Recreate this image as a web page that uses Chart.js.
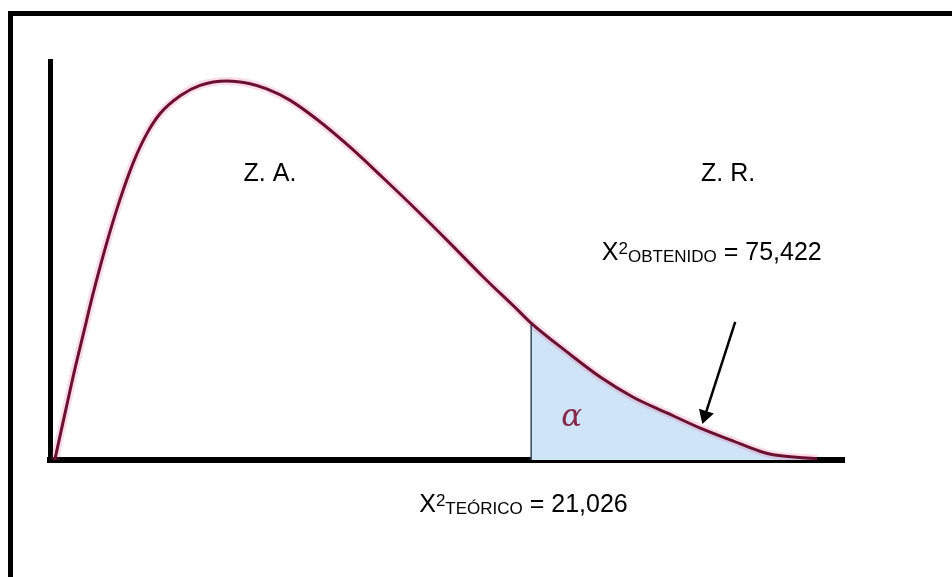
<!DOCTYPE html>
<html>
<head>
<meta charset="utf-8">
<title>Chi cuadrado - zona de rechazo</title>
<script src="https://cdn.jsdelivr.net/npm/chart.js@4.4.0/dist/chart.umd.min.js"></script>
<style>
  html, body { margin: 0; padding: 0; background: #fff; overflow: hidden; }
  #wrap { position: relative; width: 952px; height: 577px; }
  /* black frame, only top and left edges are visible in the picture */
  #frame { position: absolute; left: 8px; top: 11px; width: 2000px; height: 2000px;
           border-top: 5px solid #000; border-left: 5px solid #000; }
  #chart { position: absolute; left: 0; top: 0; }
</style>
</head>
<body>
<div id="wrap">
  <div id="frame"></div>
  <canvas id="chart" width="952" height="577"></canvas>
</div>
<script>
// density curve (x and y both 0..100 scale units)
const curveX = [0.6, 2.9, 4.2, 5.4, 7.2, 8.8, 10.5, 12.2, 13.9, 16.4, 18.9, 22.3, 25.2, 27.3, 30.2, 33.6,
  37.8, 41.9, 46.2, 50.4, 54.5, 58.8, 60.6, 65.1, 69.3, 73.4, 77.7, 81.9, 86.0, 89.4, 91.1, 96.6];
const curveY = [0.0, 20.8, 31.6, 41.5, 54.8, 65.2, 74.6, 81.8, 86.9, 91.3, 93.9, 95.0, 94.3, 93.0, 90.2, 85.4,
  78.4, 70.8, 62.6, 54.3, 46.0, 37.8, 34.3, 27.1, 20.8, 15.8, 11.8, 8.0, 4.8, 2.2, 1.3, 0.3];

// start of the rejection zone (X² teórico)
const alphaStart = 60.6;

// arrow pointing at X² obtenido: start, end
const arrowX = [86.3, 82.5];
const arrowY = [34.6, 11.2];

const zoneLabels = ['Z. A.', 'Z. R.'];
const chiTeorico = '21,026';
const chiObtenido = '75,422';

const curvePts = curveX.map((x, i) => ({ x: x, y: curveY[i] }));
const shadePts = curvePts.filter(p => p.x >= alphaStart);
const startY = curveY[curveX.indexOf(alphaStart)];

const FONT = '"Liberation Sans", Arial, sans-serif';

// draws X² with a superscript 2 and a small subscript, then " = value"
function drawChi(ctx, x, y, sub, value) {
  ctx.textAlign = 'left';
  ctx.textBaseline = 'alphabetic';
  ctx.font = '25px ' + FONT;
  ctx.fillText('X', x, y);
  x += ctx.measureText('X').width;
  ctx.font = '17px ' + FONT;
  ctx.fillText('2', x, y - 6);
  x += ctx.measureText('2').width;
  ctx.fillText(sub, x, y + 2);
  x += ctx.measureText(sub).width;
  ctx.font = '25px ' + FONT;
  ctx.fillText(' = ' + value, x, y);
}

const textPlugin = {
  id: 'texts',
  afterDatasetsDraw(chart) {
    const ctx = chart.ctx;
    const sx = chart.scales.x, sy = chart.scales.y;
    ctx.save();
    ctx.fillStyle = '#000';
    ctx.font = '25px ' + FONT;
    ctx.textAlign = 'center';
    ctx.textBaseline = 'alphabetic';
    ctx.fillText(zoneLabels[0], sx.getPixelForValue(27.7), sy.getPixelForValue(69.9));
    ctx.fillText(zoneLabels[1], sx.getPixelForValue(85.4), sy.getPixelForValue(69.9));

    drawChi(ctx, sx.getPixelForValue(69.5), sy.getPixelForValue(50.1), 'OBTENIDO', chiObtenido);
    drawChi(ctx, sx.getPixelForValue(46.5), sy.getPixelForValue(-13.0), 'TEÓRICO', chiTeorico);

    // alpha inside the shaded tail
    ctx.fillStyle = 'rgba(125, 20, 55, 0.9)';
    ctx.font = 'italic 31px "DejaVu Serif", serif';
    ctx.textAlign = 'center';
    ctx.textBaseline = 'middle';
    ctx.fillText('α', sx.getPixelForValue(65.7), sy.getPixelForValue(10.5));
    ctx.restore();
  }
};

new Chart(document.getElementById('chart'), {
  type: 'line',
  data: {
    datasets: [
      { // main curve
        data: curvePts,
        borderColor: '#6a1030',
        borderWidth: 3,
        pointRadius: 0,
        cubicInterpolationMode: 'monotone',
        fill: false,
        order: 0
      },
      { // arrow
        data: arrowX.map((x, i) => ({ x: x, y: arrowY[i] })),
        borderColor: '#000',
        borderWidth: 2.5,
        pointStyle: 'triangle',
        pointRadius: [0, 9],
        pointRotation: [0, 197.6],
        pointBackgroundColor: '#000',
        pointBorderColor: '#000',
        pointBorderWidth: 0,
        fill: false,
        clip: false,
        order: 0
      },
      { // edge of the rejection zone
        data: [{ x: alphaStart, y: 0 }, { x: alphaStart, y: startY }],
        borderColor: '#34475c',
        borderWidth: 1.5,
        pointRadius: 0,
        fill: false,
        order: 1
      },
      { // soft pink halo around the curve
        data: curvePts,
        borderColor: 'rgba(235, 90, 140, 0.22)',
        borderWidth: 8,
        pointRadius: 0,
        cubicInterpolationMode: 'monotone',
        fill: false,
        order: 2
      },
      { // shaded alpha area
        data: shadePts,
        borderWidth: 0,
        borderColor: 'rgba(0,0,0,0)',
        backgroundColor: '#cfe4f7',
        pointRadius: 0,
        cubicInterpolationMode: 'monotone',
        fill: 'origin',
        order: 3
      }
    ]
  },
  options: {
    responsive: false,
    animation: false,
    layout: { padding: { left: 50, top: 61, right: 108, bottom: 117 } },
    plugins: { legend: { display: false }, tooltip: { enabled: false } },
    scales: {
      x: {
        type: 'linear', min: 0, max: 100,
        grid: { display: false, drawTicks: false },
        ticks: { display: false },
        border: { display: true, color: '#000', width: 6 }
      },
      y: {
        min: 0, max: 100,
        grid: { display: false, drawTicks: false },
        ticks: { display: false },
        border: { display: true, color: '#000', width: 5 }
      }
    }
  },
  plugins: [textPlugin]
});
</script>
</body>
</html>
